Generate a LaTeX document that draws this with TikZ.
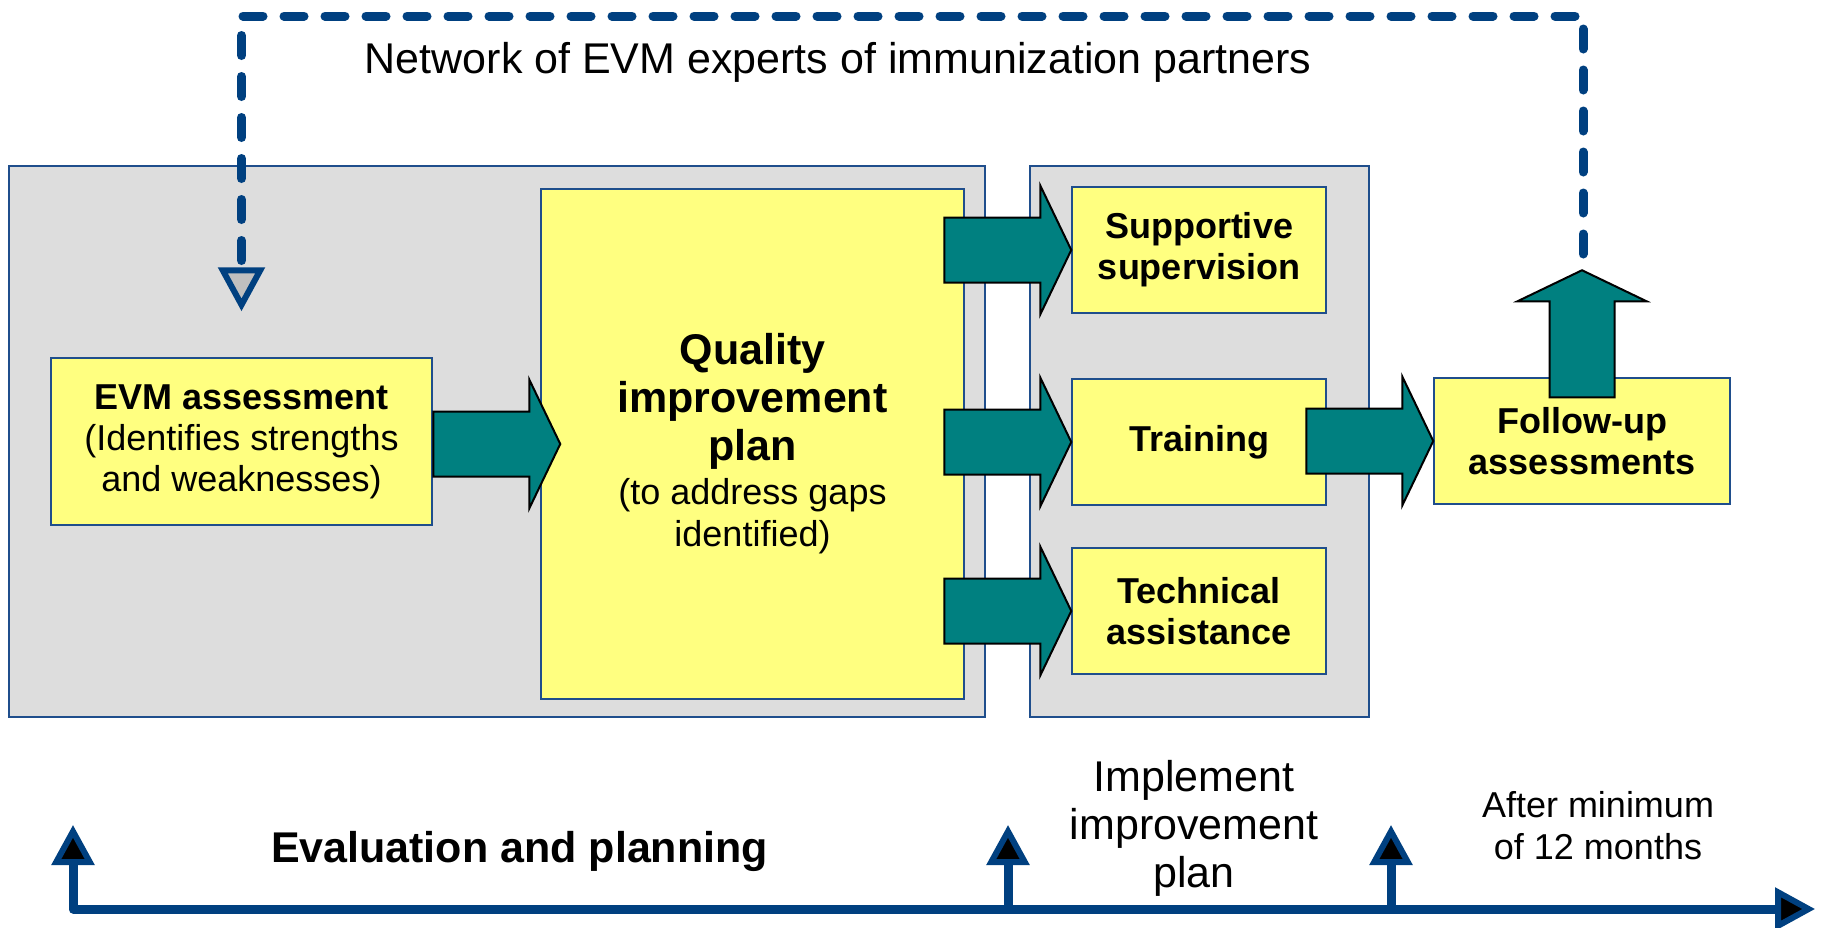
\documentclass[tikz,border=0pt]{standalone}
\usepackage{fontspec}
\setmainfont{Liberation Sans}
\usetikzlibrary{arrows.meta}

\definecolor{panelgray}{RGB}{221,221,221}
\definecolor{boxyellow}{RGB}{255,255,128}
\definecolor{evmteal}{RGB}{0,128,128}
\definecolor{lineblue}{RGB}{0,64,128}
\definecolor{edgeblue}{RGB}{31,78,140}

\newcommand{\plainline}{\fontsize{36}{42}\selectfont\mdseries}

\begin{document}
\begin{tikzpicture}
  [x=1pt,y=-1pt,
   panel/.style={draw=edgeblue,line width=1.5pt,fill=panelgray,inner sep=0pt},
   stepbox/.style={draw=edgeblue,line width=1.5pt,fill=boxyellow,align=center,inner sep=0pt,
     minimum width=254pt,minimum height=126pt,font=\fontsize{36}{41}\selectfont\bfseries},
   label/.style={align=center,inner sep=0pt},
   netlink/.style={draw=lineblue,line width=9pt,line cap=round,dash pattern=on 20pt off 21pt},
   timeline/.style={draw=lineblue,line width=9pt,line join=round},
   tickhead/.tip={Triangle[width=42pt,length=40pt,fill=black,line width'=6pt]},
   nethead/.tip={Triangle[width=46pt,length=44pt,fill=black!25,line width'=6pt]},
   blockarrow/.pic={
     \draw[fill=evmteal,line width=2pt,line join=miter]
       (-127,-32.5) -- (-31,-32.5) -- (-31,-64.5) -- (0,0) -- (-31,64.5)
       -- (-31,32.5) -- (-127,32.5) -- cycle;
   }]
  \useasboundingbox (0,0) rectangle (1822,927);

  % grey stages
  \node[panel,minimum width=976pt,minimum height=551pt] (evalpanel) at (497,441.5) {};
  \node[panel,minimum width=339pt,minimum height=551pt] (implpanel) at (1199.5,441.5) {};

  % steps
  \node[stepbox,minimum width=381pt,minimum height=167pt] (evm) at (241.5,441.5)
    {EVM assessment\\\mdseries(Identifies strengths\\\mdseries and weaknesses)};
  \node[stepbox,minimum width=423pt,minimum height=510pt,font=\fontsize{43}{48}\selectfont\bfseries]
    (qip) at (752.5,444) {Quality\\improvement\\plan\\[-4pt]\plainline(to address gaps\\[-6pt]\plainline identified)};
  \node[stepbox] (sup) at (1199,250) {Supportive\\supervision};
  \node[stepbox] (train) at (1199,442) {Training};
  \node[stepbox] (tech) at (1199,611) {Technical\\assistance};
  \node[stepbox,minimum width=296pt] (fu) at (1582,441) {Follow-up\\assessments};

  % block arrows
  \pic at ([xshift=20pt]qip.west) {blockarrow};
  \foreach \to in {sup,train,tech}
    \pic at (\to.west) {blockarrow};
  \pic at (fu.west) {blockarrow};
  \pic[rotate=90] at ([yshift=107pt]fu.north) {blockarrow};

  % expert network loop
  \coordinate (netstart) at (1583,254);
  \coordinate (nettop) at (0,16);
  \draw[netlink,-nethead] (netstart) |- (nettop -| evm.north) -- ([yshift=46pt]evm.north);
  \node[label,anchor=base,font=\fontsize{43}{48}\selectfont] (network) at (838,73)
    {Network of EVM experts of immunization partners};

  % time line
  \coordinate (origin) at (73,909);
  \coordinate (tend) at (1815,909);
  \draw[timeline,tickhead-tickhead] (73,825) -- (origin) -- (tend);
  \foreach \x in {1008,1391}
    \draw[timeline,-tickhead] (\x,909) -- (\x,825);
  \node[label,anchor=base,font=\fontsize{43}{48}\selectfont\bfseries] (evalplan) at (519.5,862)
    {Evaluation and planning};
  \node[label,font=\fontsize{43}{48}\selectfont] (implement) at (1194,828)
    {Implement\\improvement\\plan};
  \node[label,font=\fontsize{36}{42}\selectfont] (after) at (1598,826)
    {After minimum\\of 12 months};
\end{tikzpicture}
\end{document}
